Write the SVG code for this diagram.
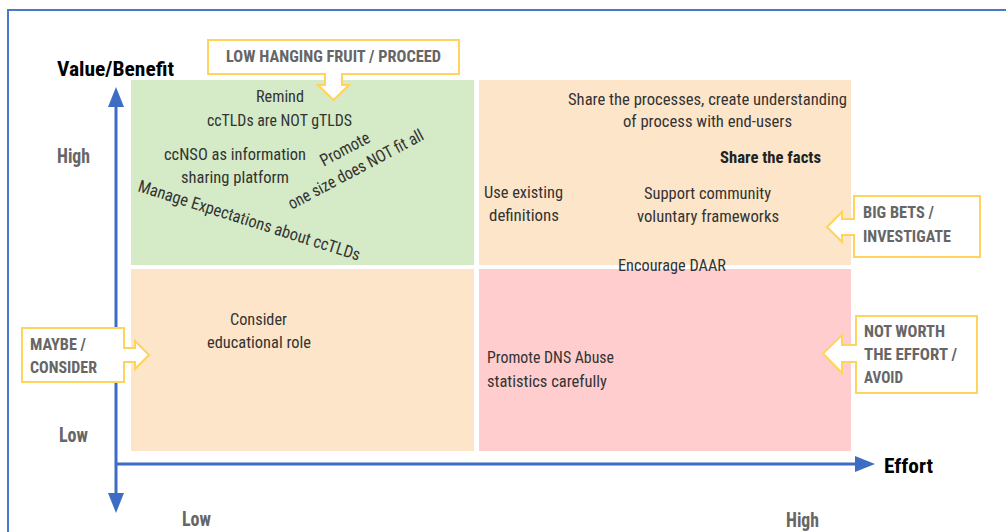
<svg xmlns="http://www.w3.org/2000/svg" width="1006" height="532" viewBox="0 0 1006 532">
<style>
text{font-family:"Roboto Condensed","DejaVu Sans Condensed",Roboto,"Liberation Sans",sans-serif}
.q{font-size:17px;fill:#333}
.qb{font-size:17px;fill:#222;font-weight:bold}
.c{font-size:16px;fill:#666;font-weight:bold}
.ax{font-size:20px;fill:#666;font-weight:bold}
.t{font-size:21px;fill:#000;font-weight:bold}
.call{fill:#fff;stroke:#ffd35c;stroke-width:2}
.axis{stroke:#3c6cc4;stroke-width:3;fill:none}
</style>
<defs>
<marker id="ah" markerUnits="userSpaceOnUse" markerWidth="20" markerHeight="16" refX="0" refY="8" orient="auto-start-reverse">
<path d="M0,0 L20,8 L0,16 Z" fill="#3c6cc4"/>
</marker>
</defs>
<rect x="8" y="10" width="1010" height="540" fill="none" stroke="#4a78cc" stroke-width="2"/>

<g id="quadrants">
<rect id="q-tl" x="131" y="80" width="343" height="185" fill="#d5eac7"/>
<rect id="q-tr" x="479" y="80" width="372" height="185" fill="#fde5c9"/>
<rect id="q-bl" x="131" y="269" width="343" height="182" fill="#fde5c9"/>
<rect id="q-br" x="479" y="269" width="372" height="182" fill="#ffcdcd"/>
</g>

<g id="connectors">
<line class="axis" x1="116" y1="107" x2="116" y2="493" marker-start="url(#ah)" marker-end="url(#ah)"/>
<line class="axis" x1="116" y1="464" x2="855" y2="464" marker-end="url(#ah)"/>
</g>

<g id="axis-labels">
<text class="t" x="57" y="76" textLength="117" lengthAdjust="spacingAndGlyphs">Value/Benefit</text>
<text class="t" x="884" y="473" textLength="49" lengthAdjust="spacingAndGlyphs">Effort</text>
<text class="ax" x="57" y="163" textLength="33" lengthAdjust="spacingAndGlyphs">High</text>
<text class="ax" x="59" y="442" textLength="29" lengthAdjust="spacingAndGlyphs">Low</text>
<text class="ax" x="182" y="526" textLength="29" lengthAdjust="spacingAndGlyphs">Low</text>
<text class="ax" x="786" y="527" textLength="33" lengthAdjust="spacingAndGlyphs">High</text>
</g>

<g id="callout-lhf">
<path class="call" d="M208,40 H459 V74 H342 V85 H349 L333.5,100 L318,85 H325 V74 H208 Z"/>
<text class="c" x="226" y="62" textLength="215" lengthAdjust="spacingAndGlyphs">LOW HANGING FRUIT / PROCEED</text>
</g>
<g id="callout-bigbets">
<path class="call" d="M854,196 H980 V257 H854 V235 H842 V242 L827,227 L842,212 V219 H854 Z"/>
<text class="c" x="863" y="218" textLength="71" lengthAdjust="spacingAndGlyphs">BIG BETS /</text>
<text class="c" x="863" y="242" textLength="88" lengthAdjust="spacingAndGlyphs">INVESTIGATE</text>
</g>
<g id="callout-notworth">
<path class="call" d="M856,316 H977 V393 H856 V362 H842 V373 L823,353.5 L842,335 V345 H856 Z"/>
<text class="c" x="864" y="337" textLength="81" lengthAdjust="spacingAndGlyphs">NOT WORTH</text>
<text class="c" x="864" y="360" textLength="93" lengthAdjust="spacingAndGlyphs">THE EFFORT /</text>
<text class="c" x="864" y="383" textLength="39" lengthAdjust="spacingAndGlyphs">AVOID</text>
</g>
<g id="callout-maybe">
<path class="call" d="M22,328 H124 V348 H135 V341 L149,355 L135,369 V362 H124 V382 H22 Z"/>
<text class="c" x="30" y="350" textLength="56" lengthAdjust="spacingAndGlyphs">MAYBE /</text>
<text class="c" x="30" y="373" textLength="67" lengthAdjust="spacingAndGlyphs">CONSIDER</text>
</g>

<g id="item-remind">
<text class="q" x="280" y="102" text-anchor="middle" textLength="48" lengthAdjust="spacingAndGlyphs">Remind</text>
<text class="q" x="279.5" y="126" text-anchor="middle" textLength="145" lengthAdjust="spacingAndGlyphs">ccTLDs are NOT gTLDS</text>
</g>
<g id="item-ccnso">
<text class="q" x="235" y="160" text-anchor="middle" textLength="142" lengthAdjust="spacingAndGlyphs">ccNSO as information</text>
<text class="q" x="235" y="183" text-anchor="middle" textLength="108" lengthAdjust="spacingAndGlyphs">sharing platform</text>
</g>
<g id="item-promote" transform="translate(356,170) rotate(-28)">
<text class="q" x="0" y="-18" text-anchor="middle" textLength="54" lengthAdjust="spacingAndGlyphs">Promote</text>
<text class="q" x="0" y="5" text-anchor="middle" textLength="151" lengthAdjust="spacingAndGlyphs">one size does NOT fit all</text>
</g>
<g id="item-manage" transform="translate(137,191) rotate(17.5)">
<text class="q" x="0" y="0" textLength="232" lengthAdjust="spacingAndGlyphs">Manage Expectations about ccTLDs</text>
</g>
<g id="item-share-processes">
<text class="q" x="707.5" y="105" text-anchor="middle" textLength="279" lengthAdjust="spacingAndGlyphs">Share the processes, create understanding</text>
<text class="q" x="707.5" y="127" text-anchor="middle" textLength="169" lengthAdjust="spacingAndGlyphs">of process with end-users</text>
</g>
<g id="item-share-facts">
<text class="qb" x="720" y="163" textLength="101" lengthAdjust="spacingAndGlyphs">Share the facts</text>
</g>
<g id="item-use-existing">
<text class="q" x="523.5" y="198" text-anchor="middle" textLength="79" lengthAdjust="spacingAndGlyphs">Use existing</text>
<text class="q" x="524" y="221" text-anchor="middle" textLength="70" lengthAdjust="spacingAndGlyphs">definitions</text>
</g>
<g id="item-support">
<text class="q" x="707.5" y="199" text-anchor="middle" textLength="127" lengthAdjust="spacingAndGlyphs">Support community</text>
<text class="q" x="708" y="222" text-anchor="middle" textLength="142" lengthAdjust="spacingAndGlyphs">voluntary frameworks</text>
</g>
<g id="item-daar">
<text class="q" x="618" y="271" textLength="108" lengthAdjust="spacingAndGlyphs">Encourage DAAR</text>
</g>
<g id="item-consider">
<text class="q" x="258.5" y="325" text-anchor="middle" textLength="57" lengthAdjust="spacingAndGlyphs">Consider</text>
<text class="q" x="259" y="348" text-anchor="middle" textLength="104" lengthAdjust="spacingAndGlyphs">educational role</text>
</g>
<g id="item-dns-abuse">
<text class="q" x="487" y="363" textLength="127" lengthAdjust="spacingAndGlyphs">Promote DNS Abuse</text>
<text class="q" x="487" y="387" textLength="120" lengthAdjust="spacingAndGlyphs">statistics carefully</text>
</g>
</svg>
